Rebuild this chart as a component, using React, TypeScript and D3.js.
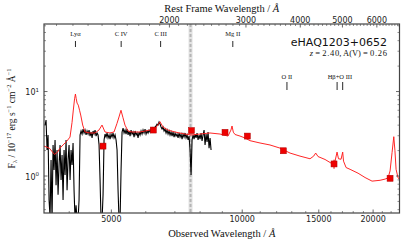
import * as d3 from "d3";

// object info
const objectName = "eHAQ1203+0652";
const redshift = 2.4;
const extinctionAV = 0.26;

// observed spectrum, log-lambda grid (start + step in dex) and flux (1e-17 erg/s/cm2/A)
const specLogLam0 = 3.5465;
const specDLogLam = 0.0023;
const specFlux = [
  4.01, 4.6, 2.03, 3.06, 0.52, 0.33, 1.55, 0.3, 2.33, 1.18,
  2.67, 0.78, 2.03, 0.6, 1.35, 2.33, 0.9, 1.77, 0.52, 2.03,
  1.03, 2.67, 0.68, 1.55, 2.33, 0.9, 2.03, 1.35, 2.46, 0.68,
  0.3, 0.45, 0.3, 0.3, 0.52, 3.06, 3.41, 3.14, 3.6, 3.23,
  3.5, 3.06, 3.41, 3.14, 3.5, 2.97, 3.32, 2.82, 3.41, 3.14,
  3.5, 2.97, 3.23, 3.06, 2.33, 0.9, 0.3, 0.3, 0.6, 2.67,
  3.14, 2.89, 3.23, 2.82, 3.06, 2.74, 3.14, 2.89, 3.23, 2.82,
  3.06, 2.67, 2.03, 0.68, 0.3, 0.3, 1.18, 3.32, 3.7, 3.23,
  3.5, 3.14, 3.6, 3.06, 3.41, 2.97, 3.5, 3.14, 3.32, 2.89,
  3.41, 3.06, 3.23, 2.82, 3.32, 3.06, 3.41, 3.14, 3.5, 3.23,
  3.6, 3.14, 3.41, 3.23, 3.5, 3.32, 3.6, 3.41, 3.7, 3.5,
  3.8, 3.91, 4.12, 4.01, 4.36, 4.12, 3.8, 3.6, 3.8, 3.41,
  3.6, 3.23, 3.5, 3.14, 3.41, 3.06, 3.32, 2.97, 3.32, 2.89,
  3.23, 2.97, 3.14, 2.82, 3.23, 2.89, 3.14, 2.74, 3.14, 2.89,
  3.23, 2.82, 3.06, 2.67, 2.97, 2.03, 1.03, 2.67, 3.06, 2.74,
  3.14, 2.82, 3.23, 2.67, 3.06, 2.74, 3.23, 2.6, 3.06, 3.5,
  2.33, 3.14, 2.53, 3.32, 2.14, 2.82, 2.03,
];

// reddened quasar template
const modelWave = [
  3500, 3600, 3700, 3760, 3809, 3871, 3940, 4017, 4060, 4088, 4115, 4134, 4150, 4170,
  4197, 4225, 4251, 4296, 4349, 4465, 4585, 4683, 4759, 4835, 4965, 5071, 5152, 5207,
  5262, 5318, 5375, 5461, 5578, 5820, 6136, 6334, 6469, 6573, 6749, 7002, 7383, 7622,
  7995, 8431, 8890, 9275, 9420, 9474, 9540, 9626, 9884, 10149, 10421, 10988, 11585,
  12215, 12880, 13580, 13945, 14320, 14600, 14756, 14940, 15504, 16090, 16348, 16523,
  16650, 16877, 17024, 17100, 17331, 17702, 18467, 19165, 19889, 20751, 21306, 21648,
  21879, 22112, 22314, 22450, 22587, 22827, 23000,
];
const modelFlux = [
  2.26, 2.14, 1.8, 1.92, 2.14, 2.33, 2.55, 2.89, 4.3, 6.04, 8.2, 9.34, 8.3, 7.3,
  6.9, 6.0, 5.27, 4.01, 3.32, 3.23, 3.23, 3.5, 4.01, 3.32, 3.23, 3.32, 4.2, 5.0,
  6.0, 4.9, 4.0, 3.41, 3.32, 3.32, 3.5, 3.75, 4.39, 3.8, 3.5, 3.32, 3.14, 3.06,
  3.14, 3.23, 3.14, 2.97, 3.5, 3.91, 3.3, 3.1, 2.97, 2.82, 2.62, 2.46, 2.33,
  2.14, 1.87, 1.72, 1.66, 1.6, 1.72, 1.87, 1.7, 1.57, 1.4, 1.5, 1.92,
  1.6, 1.58, 1.92, 1.5, 1.26, 1.2, 1.08, 0.96, 0.87, 0.89, 0.92, 0.95,
  1.15, 1.9, 2.92, 2.0, 1.2, 0.95, 0.92,
];

// photometry (g r i z Y J H K)
const photWave = [4784, 6245, 7642, 9129, 10273, 12433, 16261, 21879];
const photFlux = [2.26, 3.5, 3.45, 3.29, 2.97, 1.99, 1.39, 0.94];
const photErr = [0.05, 0.06, 0.06, 0.06, 0.06, 0.08, 0.17, 0.07];

// emission line markers
const lineLabels = ["Lyα", "C IV", "C III", "Mg II", "O II", "Hβ+O III"];
const lineRestWaves = [[1216], [1549], [1909], [2798], [3727], [4861, 5007]];
const lineRows = [0, 0, 0, 0, 1, 1];

const obsTicks = [5000, 10000, 15000, 20000];
const obsMinorTicks = [4000, 6000, 7000, 8000, 9000, 11000, 12000, 13000, 14000, 16000, 17000, 18000, 19000, 21000, 22000];
const restTicks = [2000, 3000, 4000, 5000, 6000];
const fluxTicks = [1, 10];
const fluxMinorTicks = [0.4, 0.5, 0.6, 0.7, 0.8, 0.9, 2, 3, 4, 5, 6, 7, 8, 9, 20, 30, 40, 50, 60];
const telluricWave = 7605;

export default function App() {
  const W = 407, H = 242;
  const left = 44, right = 399.5, top = 24, bottom = 213;
  const x = d3.scaleLog().domain([3500, 23000]).range([left, right]);
  const xRest = d3.scaleLog().domain([3500 / (1 + redshift), 23000 / (1 + redshift)]).range([left, right]);
  const y = d3.scaleLog().domain([0.365, 63]).range([bottom, top]);

  const specPts = specFlux.map((f, i) => [Math.pow(10, specLogLam0 + i * specDLogLam), f]);
  const modelPts = modelWave.map((w, i) => [w, modelFlux[i]]);
  const line = d3.line<number[]>().x(d => x(d[0])).y(d => y(d[1]));

  const restMinor = d3.range(1100, 6800, 100).filter(v => !restTicks.includes(v));
  const axisCol = "#444";
  const sans = "DejaVu Sans, sans-serif";
  const serif = "Liberation Serif, serif";

  return (
    <svg width={W} height={H} style={{ position: "absolute", left: 0, top: 0, background: "#fff" }}>
      <defs>
        <clipPath id="plotclip">
          <rect x={left} y={top} width={right - left} height={bottom - top} />
        </clipPath>
      </defs>

      <g clipPath="url(#plotclip)">
        <rect x={x(telluricWave) - 2} y={top} width={4} height={bottom - top} fill="#e2e2e2" />
        <line x1={x(telluricWave)} x2={x(telluricWave)} y1={top} y2={bottom}
          stroke="#b5b5b5" strokeWidth={2} strokeDasharray="3 2" />
        <path d={line(specPts) ?? ""} fill="none" stroke="#000" strokeWidth={1.1} />
        <path d={line(modelPts) ?? ""} fill="none" stroke="#ff1a1a" strokeWidth={0.95} />
        {photWave.map((w, i) => (
          <g key={i}>
            <line x1={x(w)} x2={x(w)} y1={y(photFlux[i] + photErr[i])} y2={y(photFlux[i] - photErr[i])}
              stroke="#e00" strokeWidth={1} />
            <rect x={x(w) - 3} y={y(photFlux[i]) - 3} width={6} height={6}
              fill="#ee0000" stroke="#b00000" strokeWidth={0.5} />
          </g>
        ))}
      </g>

      {/* emission lines */}
      {lineLabels.map((lab, i) => {
        const obs = lineRestWaves[i].map(r => x(r * (1 + redshift)));
        const cx = d3.mean(obs) as number;
        const ty = lineRows[i] === 0 ? 36 : 79;
        const t0 = lineRows[i] === 0 ? 41 : 82;
        const t1 = lineRows[i] === 0 ? 47 : 90;
        return (
          <g key={lab}>
            <text x={cx} y={ty} textAnchor="middle" fontFamily={serif} fontSize={6.5} fill="#111">{lab}</text>
            {obs.map((ox, j) => (
              <line key={j} x1={ox} x2={ox} y1={t0} y2={t1} stroke="#111" strokeWidth={0.9} />
            ))}
          </g>
        );
      })}

      {/* name + redshift */}
      <text x={387} y={46} textAnchor="end" fontFamily={sans} fontSize={11} fill="#111">{objectName}</text>
      <text x={387} y={56} textAnchor="end" fontFamily={serif} fontSize={8.5} fill="#111">
        <tspan fontStyle="italic">z</tspan> = {redshift.toFixed(2).split("").join("\u200a")}, A(V) = {extinctionAV.toFixed(2).split("").join("\u200a")}
      </text>

      {/* frame */}
      <rect x={left} y={top} width={right - left} height={bottom - top} fill="none" stroke={axisCol} strokeWidth={1.2} />

      {/* bottom + top ticks */}
      {obsTicks.map(v => (
        <g key={"ob" + v}>
          <line x1={x(v)} x2={x(v)} y1={bottom} y2={bottom - 3.5} stroke={axisCol} strokeWidth={0.8} />
          <text x={x(v)} y={222} textAnchor="middle" fontFamily={sans} fontSize={8} fill="#222">{v}</text>
        </g>
      ))}
      {obsMinorTicks.map(v => (
        <line key={"om" + v} x1={x(v)} x2={x(v)} y1={bottom} y2={bottom - 2} stroke={axisCol} strokeWidth={0.6} />
      ))}
      {restTicks.map(v => (
        <g key={"rt" + v}>
          <line x1={xRest(v)} x2={xRest(v)} y1={top} y2={top + 3.5} stroke={axisCol} strokeWidth={0.8} />
          <text x={xRest(v)} y={22.5} textAnchor="middle" fontFamily={sans} fontSize={8} fill="#222">{v}</text>
        </g>
      ))}
      {restMinor.map(v => (
        <line key={"rm" + v} x1={xRest(v)} x2={xRest(v)} y1={top} y2={top + 2} stroke={axisCol} strokeWidth={0.6} />
      ))}

      {/* y ticks */}
      {fluxTicks.map(v => (
        <g key={"ft" + v}>
          <line x1={left} x2={left + 3.5} y1={y(v)} y2={y(v)} stroke={axisCol} strokeWidth={0.8} />
          <line x1={right} x2={right - 3.5} y1={y(v)} y2={y(v)} stroke={axisCol} strokeWidth={0.8} />
          <text x={39} y={y(v) + 3.5} textAnchor="end" fontFamily={sans} fontSize={8} fill="#222">
            10<tspan dy={-3.5} fontSize={5.5}>{Math.round(Math.log10(v))}</tspan>
          </text>
        </g>
      ))}
      {fluxMinorTicks.map(v => (
        <g key={"fm" + v}>
          <line x1={left} x2={left + 2} y1={y(v)} y2={y(v)} stroke={axisCol} strokeWidth={0.6} />
          <line x1={right} x2={right - 2} y1={y(v)} y2={y(v)} stroke={axisCol} strokeWidth={0.6} />
        </g>
      ))}

      {/* axis titles */}
      <text x={(left + right) / 2} y={237} textAnchor="middle" fontFamily={serif} fontSize={10.5} fill="#111">
        Observed Wavelength / <tspan fontStyle="italic">Å</tspan>
      </text>
      <text x={(left + right) / 2} y={11.5} textAnchor="middle" fontFamily={serif} fontSize={10.5} fill="#111">
        Rest Frame Wavelength / <tspan fontStyle="italic">Å</tspan>
      </text>
      <text transform={`translate(15,${(top + bottom) / 2}) rotate(-90)`} textAnchor="middle" fontFamily={serif} fontSize={9.5} fill="#111">
        F<tspan dy={2} fontSize={7}>λ</tspan><tspan dy={-2}> / 10</tspan><tspan dy={-4} fontSize={6.5}>−17</tspan>
        <tspan dy={4}> erg s</tspan><tspan dy={-4} fontSize={6.5}>−1</tspan>
        <tspan dy={4}> cm</tspan><tspan dy={-4} fontSize={6.5}>−2</tspan>
        <tspan dy={4}> Å</tspan><tspan dy={-4} fontSize={6.5}>−1</tspan>
      </text>
    </svg>
  );
}
